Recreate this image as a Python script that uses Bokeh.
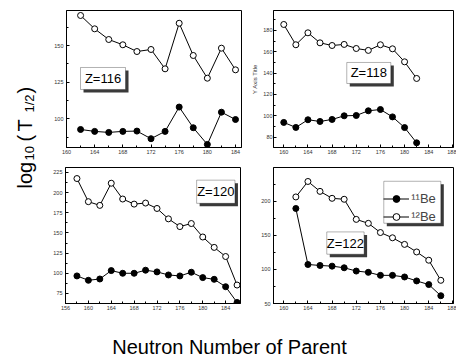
import math
from bokeh.plotting import figure
from bokeh.models import (Label, BoxAnnotation, Legend, LegendItem,
                          SingleIntervalTicker, Range1d)
from bokeh.layouts import row, column
from bokeh.embed import file_html
from bokeh.resources import INLINE

FONT = "Liberation Sans"

# ---------------- data ----------------
N116 = [162, 164, 166, 168, 170, 172, 174, 176, 178, 180, 182, 184]
BE11_116 = [92.7, 91.4, 90.7, 91.4, 91.6, 86.4, 91.4, 108.0, 93.9, 82.5, 104.5, 99.5]
BE12_116 = [170.5, 161.4, 154.1, 150.5, 145.9, 147.3, 134.1, 165.2, 143.2, 127.7, 148.2, 133.4]

N118 = [160, 162, 164, 166, 168, 170, 172, 174, 176, 178, 180, 182]
BE11_118 = [93.8, 89.1, 96.3, 94.7, 96.6, 100.0, 100.3, 104.7, 105.9, 99.0, 89.0, 74.7]
BE12_118 = [185.6, 166.6, 177.8, 168.4, 165.9, 166.9, 163.1, 161.3, 166.6, 162.8, 150.6, 135.0]

N120 = [158, 160, 162, 164, 166, 168, 170, 172, 174, 176, 178, 180, 182, 184, 186]
BE11_120 = [96.7, 91.3, 92.9, 103.3, 100.0, 100.0, 103.8, 101.7, 97.9, 96.7, 101.3, 94.6, 92.5, 83.3, 63.8]
BE12_120 = [217.5, 188.8, 184.2, 211.7, 192.1, 185.8, 187.1, 180.4, 167.5, 157.9, 161.7, 145.0, 132.1, 120.8, 85.4]

N122 = [162, 164, 166, 168, 170, 172, 174, 176, 178, 180, 182, 184, 186]
BE11_122 = [189.4, 107.2, 105.8, 104.8, 102.4, 97.6, 95.7, 91.3, 91.3, 88.9, 83.1, 77.8, 61.4]
BE12_122 = [206.3, 229.0, 214.5, 204.3, 202.9, 173.4, 167.6, 154.1, 146.4, 136.7, 125.6, 113.5, 84.0]

Z_LABELS = ["Z=116", "Z=118", "Z=120", "Z=122"]
SERIES_LABELS = ["\u00b9\u00b9Be", "\u00b9\u00b2Be"]
X_TITLE = "Neutron Number of Parent"
Y_SUB_TITLE = "Y Axis Title"

# ---------------- panel helpers ----------------
def make_panel(xr, yr, yint, width, height, mbl, mbr, mbt, mbb):
    p = figure(width=width, height=height, x_range=Range1d(*xr), y_range=Range1d(*yr),
               output_backend="svg", toolbar_location=None,
               min_border_left=mbl, min_border_right=mbr,
               min_border_top=mbt, min_border_bottom=mbb)
    p.grid.visible = False
    p.outline_line_color = "black"
    p.outline_line_width = 1
    p.background_fill_color = "white"
    p.border_fill_color = "white"
    p.xaxis.ticker = SingleIntervalTicker(interval=4, num_minor_ticks=2)
    p.yaxis.ticker = SingleIntervalTicker(interval=yint, num_minor_ticks=2)
    for ax in list(p.xaxis) + list(p.yaxis):
        ax.axis_line_color = "black"
        ax.major_tick_in = 3
        ax.major_tick_out = 0
        ax.minor_tick_in = 2
        ax.minor_tick_out = 0
        ax.major_tick_line_color = "black"
        ax.minor_tick_line_color = "black"
        ax.major_label_text_font = FONT
        ax.major_label_text_font_size = "5.5px"
        ax.major_label_text_color = "#333333"
    p.xaxis.major_label_standoff = 2
    p.yaxis.major_label_standoff = 3
    return p


def draw_series(p, x, y11, y12):
    l1 = p.line(x, y11, line_color="black", line_width=1)
    s1 = p.scatter(x, y11, marker="circle", size=6, fill_color="black", line_color="black", line_width=1)
    l2 = p.line(x, y12, line_color="black", line_width=1)
    s2 = p.scatter(x, y12, marker="circle", size=6, fill_color="white", line_color="black", line_width=1)
    return (l1, s1), (l2, s2)


def boxes(p, x0, x1, y0, y1, fw, fh, shadow_px=3):
    xr, yr = p.x_range, p.y_range
    dx = shadow_px * (xr.end - xr.start) / fw
    dy = shadow_px * (yr.end - yr.start) / fh
    p.add_layout(BoxAnnotation(left=x0 + dx, right=x1 + dx, bottom=y0 - dy, top=y1 - dy,
                               fill_color="#3a3a3a", fill_alpha=1, line_color=None))
    p.add_layout(BoxAnnotation(left=x0, right=x1, bottom=y0, top=y1,
                               fill_color="white", fill_alpha=1, line_color="black", line_width=1))


def zbox(p, text, x0, x1, y0, y1, fw, fh):
    boxes(p, x0, x1, y0, y1, fw, fh)
    p.add_layout(Label(x=(x0 + x1) / 2, y=(y0 + y1) / 2, text=text, text_align="center",
                       text_baseline="middle", text_font=FONT, text_font_size="13px",
                       text_color="black"))


# top-left Z=116 (frame x 66-241, y 10-147)
tl = make_panel((160, 184.85), (80.4, 173.9), 25, 206, 157, 26, 5, 10, 10)
draw_series(tl, N116, BE11_116, BE12_116)
zbox(tl, Z_LABELS[0], 161.99, 168.38, 120.0, 135.0, 175, 137)

# top-right Z=118 (frame x 273-453)
tr = make_panel((158.3, 188.1), (70.3, 198.7), 20, 210, 157, 27, 3, 10, 10)
draw_series(tr, N118, BE11_118, BE12_118)
zbox(tr, Z_LABELS[1], 170.43, 177.72, 130.3, 150.0, 180, 137)
tr.yaxis.axis_label = Y_SUB_TITLE
tr.yaxis.axis_label_text_font = FONT
tr.yaxis.axis_label_text_font_size = "6px"
tr.yaxis.axis_label_text_font_style = "normal"
tr.yaxis.axis_label_text_color = "#333333"
tr.yaxis.axis_label_standoff = 2
tr.yaxis.major_label_standoff = 1

# bottom-left Z=120 (frame x 65-240, y 167-303)
bl = make_panel((156, 186.6), (62.5, 231.2), 25, 206, 156, 25, 6, 10, 10)
draw_series(bl, N120, BE11_120, BE12_120)
zbox(bl, Z_LABELS[2], 178.93, 185.63, 186.75, 215.5, 175, 136)

# bottom-right Z=122
br = make_panel((158.3, 188.1), (50, 249.5), 50, 210, 156, 27, 3, 10, 10)
(r11, r12) = draw_series(br, N122, BE11_122, BE12_122)
zbox(br, Z_LABELS[3], 167.12, 173.3, 122.3, 155.0, 180, 136)

# legend: drawn box + shadow, bokeh legend (no border) inside it
LG_X0, LG_X1, LG_Y0, LG_Y1 = 176.56, 186.0, 167.7, 229.3
fw, fh = 180, 136
boxes(br, LG_X0, LG_X1, LG_Y0, LG_Y1, fw, fh)
lx_px = (LG_X0 - br.x_range.start) / (br.x_range.end - br.x_range.start) * fw
ly_px = (LG_Y1 - br.y_range.start) / (br.y_range.end - br.y_range.start) * fh
legend = Legend(items=[LegendItem(label=SERIES_LABELS[0], renderers=list(r11)),
                       LegendItem(label=SERIES_LABELS[1], renderers=list(r12))],
                location=(lx_px, ly_px - 3 - 41), margin=0, padding=3, spacing=1,
                glyph_width=26, glyph_height=17, label_height=17, label_width=10,
                label_standoff=2,
                label_text_font=FONT, label_text_font_size="13px",
                border_line_color=None, background_fill_alpha=0)
br.add_layout(legend)

# ---------------- big axis titles ----------------
YW, YH = 40, 313
yl = figure(width=YW, height=YH, x_range=Range1d(0, 1), y_range=Range1d(0, 1),
            output_backend="svg", toolbar_location=None, x_axis_type=None, y_axis_type=None,
            min_border=0, outline_line_color=None)
yl.grid.visible = False
base_x = 24
# (text, font px, baseline shift px, start position px from top)
pieces = [("log", 20, 0, 188), ("10", 13, 5, 160), ("(", 20, 0, 141),
          ("T", 20, 0, 131), ("1/2", 13, 5, 112), (")", 20, 0, 93)]
for txt, fs, shift, start in pieces:
    yl.add_layout(Label(x=(base_x + shift) / YW, y=1 - start / YH, text=txt,
                        angle=math.pi / 2, text_align="left", text_baseline="alphabetic",
                        text_font=FONT, text_font_size=f"{fs}px", text_color="black"))

XW, XH = 456, 45
xl = figure(width=XW, height=XH, x_range=Range1d(0, 1), y_range=Range1d(0, 1),
            output_backend="svg", toolbar_location=None, x_axis_type=None, y_axis_type=None,
            min_border=0, outline_line_color=None)
xl.grid.visible = False
xl.add_layout(Label(x=229 / XW, y=1 / XH, text=X_TITLE, text_align="center",
                    text_baseline="bottom", text_font=FONT, text_font_size="20px",
                    text_color="black"))

layout = column(row(yl, column(row(tl, tr), row(bl, br))), xl)

open("out.html", "w").write(file_html(layout, INLINE))
